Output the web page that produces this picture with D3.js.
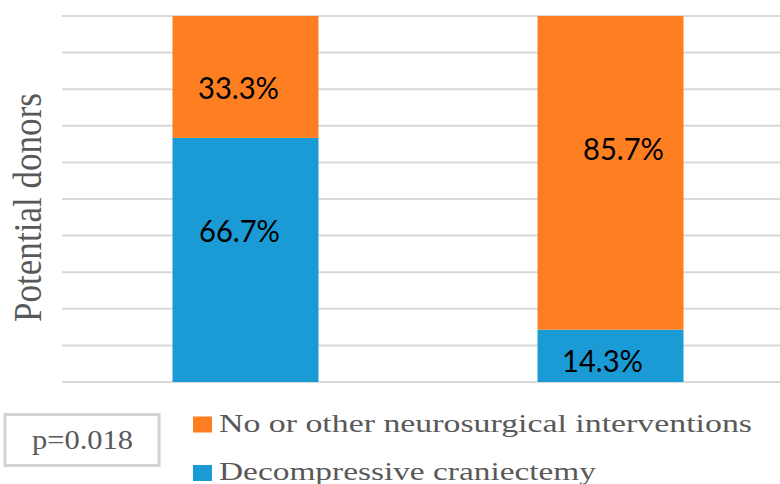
<!DOCTYPE html>
<html>
<head>
<meta charset="utf-8">
<script src="https://cdn.jsdelivr.net/npm/d3@7"></script>
<style>
  html, body { margin: 0; padding: 0; background: #fff; }
  svg { display: block; }
</style>
</head>
<body>
<svg id="chart" width="780" height="484"></svg>
<script>
// ---- data ----
const categories = ["Group A", "Group B"];
const seriesNames = ["Decompressive craniectemy", "No or other neurosurgical interventions"];
const craniectomy = [66.7, 14.3];
const otherInterventions = [33.3, 85.7];
const yTicks = [0, 10, 20, 30, 40, 50, 60, 70, 80, 90, 100];
const yAxisTitle = "Potential donors";
const pValueText = "p=0.018";

// ---- layout / style ----
const W = 780, H = 484;
const colors = { "Decompressive craniectemy": "#1a9bd6", "No or other neurosurgical interventions": "#fe7e22" };
const textGrey = "#595959";
const serif = "'Liberation Serif', 'Times New Roman', serif";
const sans = "Lato, 'Open Sans', sans-serif";

const svg = d3.select("#chart");

const rows = categories.map((c, i) => ({
  cat: c,
  "Decompressive craniectemy": craniectomy[i],
  "No or other neurosurgical interventions": otherInterventions[i]
}));
const stacked = d3.stack().keys(seriesNames)(rows);

const x = d3.scaleBand().domain(categories).range([63, 793]).paddingInner(0.6).paddingOuter(0.3);
const y = d3.scaleLinear().domain([0, 100]).range([382, 16]);

// gridlines
svg.append("g").selectAll("line").data(yTicks).join("line")
  .attr("x1", 62).attr("x2", W)
  .attr("y1", d => y(d)).attr("y2", d => y(d))
  .attr("stroke", "#d9d9d9").attr("stroke-width", 2);

// bars
const layer = svg.append("g").selectAll("g").data(stacked).join("g")
  .attr("fill", d => colors[d.key]);
layer.selectAll("rect").data(d => d).join("rect")
  .attr("x", d => x(d.data.cat))
  .attr("width", x.bandwidth())
  .attr("y", d => y(d[1]))
  .attr("height", d => y(d[0]) - y(d[1]));

// data labels (placement tweaks per segment, [series][category])
const labelFrac = [[0.38, 0.60], [0.59, 0.425]]; // fraction from segment top
const labelDx = [[-6, -8], [-7, 13]];
const labelWidth = 81;
stacked.forEach((s, si) => {
  s.forEach((d, ci) => {
    const top = y(d[1]), bot = y(d[0]);
    const cy = top + (bot - top) * labelFrac[si][ci];
    const cx = x(d.data.cat) + x.bandwidth() / 2 + labelDx[si][ci];
    svg.append("text")
      .attr("x", cx).attr("y", cy + 11)
      .attr("text-anchor", "middle")
      .attr("font-family", sans)
      .attr("font-size", 31)
      .attr("fill", "#000")
      .attr("textLength", labelWidth)
      .attr("lengthAdjust", "spacingAndGlyphs")
      .text((d[1] - d[0]).toFixed(1) + "%");
  });
});

// y axis title
svg.append("text")
  .attr("transform", "translate(41," + ((93 + 322) / 2) + ") rotate(-90)")
  .attr("text-anchor", "middle")
  .attr("font-family", serif)
  .attr("font-size", 39)
  .attr("fill", textGrey)
  .attr("textLength", 229)
  .attr("lengthAdjust", "spacingAndGlyphs")
  .text(yAxisTitle);

// p-value box
svg.append("rect")
  .attr("x", 5).attr("y", 414.5).attr("width", 154).attr("height", 51)
  .attr("fill", "none").attr("stroke", "#d4d4d4").attr("stroke-width", 3);
svg.append("text")
  .attr("x", 82.5).attr("y", 449)
  .attr("text-anchor", "middle")
  .attr("font-family", serif)
  .attr("font-size", 27)
  .attr("fill", textGrey)
  .attr("textLength", 101)
  .attr("lengthAdjust", "spacingAndGlyphs")
  .text(pValueText);

// legend
const legendItems = [
  { key: seriesNames[1], sy: 416.5, base: 432, w: 533 },
  { key: seriesNames[0], sy: 465, base: 480, w: 377 }
];
const lg = svg.append("g");
legendItems.forEach(it => {
  lg.append("rect").attr("x", 193).attr("y", it.sy).attr("width", 19).attr("height", 16)
    .attr("fill", colors[it.key]);
  lg.append("text")
    .attr("x", 219).attr("y", it.base)
    .attr("font-family", serif)
    .attr("font-size", 26)
    .attr("fill", textGrey)
    .attr("textLength", it.w)
    .attr("lengthAdjust", "spacingAndGlyphs")
    .text(it.key);
});
</script>
</body>
</html>
